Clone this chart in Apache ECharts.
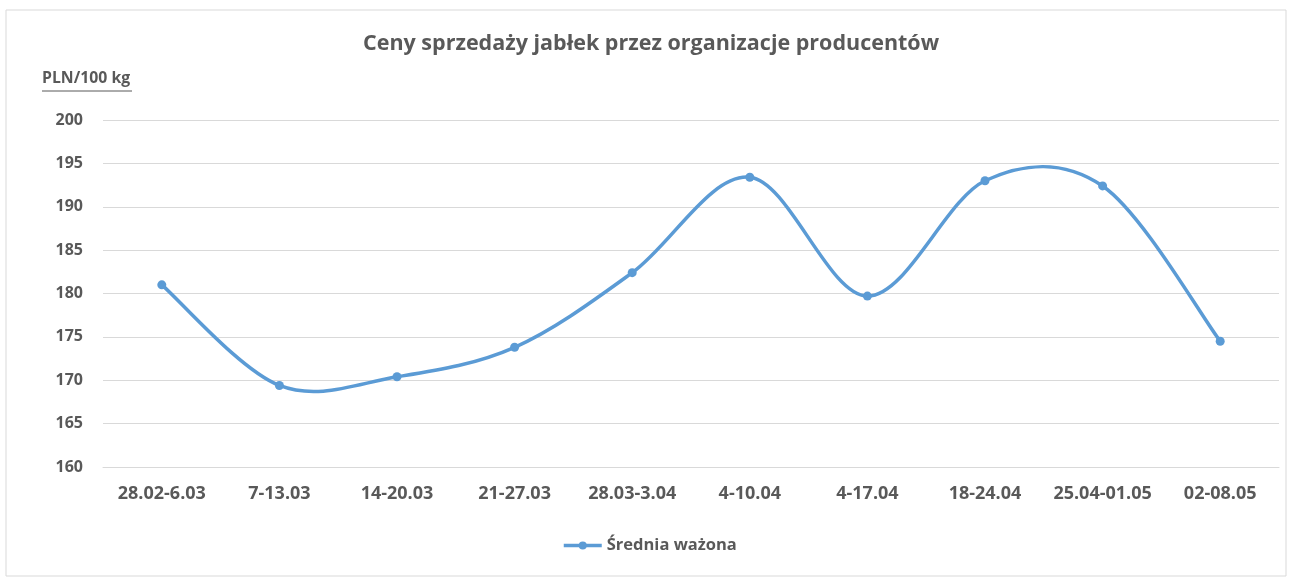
<!DOCTYPE html>
<html>
<head>
<meta charset="utf-8">
<script src="https://cdn.jsdelivr.net/npm/echarts@6/dist/echarts.min.js"></script>
<style>
  html, body { margin: 0; padding: 0; background: #fff; }
  #chart { width: 1290px; height: 580px; }
</style>
</head>
<body>
<div id="chart"></div>
<script>
// dane
var weeks = ['28.02-6.03', '7-13.03', '14-20.03', '21-27.03', '28.03-3.04',
    '4-10.04', '4-17.04', '18-24.04', '25.04-01.05', '02-08.05'];
var sredniaWazona = [181.0, 169.4, 170.4, 173.8, 182.4, 193.4, 179.7, 193.0, 192.4, 174.5];
var yMin = 160;
var yMax = 200;
var yStep = 5;

var textColor = '#595959';
var lineColor = '#5B9BD5';
var fontFam = '"Open Sans", "Liberation Sans", sans-serif';

var chart = echarts.init(document.getElementById('chart'));

// krzywa w stylu Excela (Catmull-Rom), punkty liczone przez oś wykresu
function renderCurve(params, api) {
    var i = params.dataIndex;
    var n = sredniaWazona.length;
    if (i >= n - 1) return;
    var pt = function (k) {
        k = Math.max(0, Math.min(n - 1, k));
        return api.coord([k, sredniaWazona[k]]);
    };
    var p0 = pt(i - 1), p1 = pt(i), p2 = pt(i + 1), p3 = pt(i + 2);
    return {
        type: 'bezierCurve',
        shape: {
            x1: p1[0], y1: p1[1],
            x2: p2[0], y2: p2[1],
            cpx1: p1[0] + (p2[0] - p0[0]) / 6,
            cpy1: p1[1] + (p2[1] - p0[1]) / 6,
            cpx2: p2[0] - (p3[0] - p1[0]) / 6,
            cpy2: p2[1] - (p3[1] - p1[1]) / 6
        },
        style: { fill: null, stroke: lineColor, lineWidth: 3.5, lineCap: 'round' }
    };
}

var option = {
    backgroundColor: '#fff',
    title: {
        text: 'Ceny sprzedaży jabłek przez organizacje producentów',
        left: 358,
        top: 28,
        textStyle: {
            color: textColor,
            fontSize: 21.5,
            fontWeight: 'bold',
            fontFamily: fontFam
        }
    },
    graphic: [
        {
            // ramka wykresu
            type: 'rect',
            shape: { x: 6, y: 10, width: 1280, height: 566 },
            style: { fill: null, stroke: '#D9D9D9', lineWidth: 1 },
            silent: true
        },
        {
            type: 'text',
            left: 42,
            top: 70,
            style: {
                text: 'PLN/100 kg',
                fill: textColor,
                font: 'bold 15.8px ' + fontFam
            }
        },
        {
            type: 'line',
            shape: { x1: 42, y1: 91, x2: 132, y2: 91 },
            style: { stroke: textColor, lineWidth: 1 }
        }
    ],
    legend: {
        bottom: 21,
        left: 557,
        itemWidth: 38,
        itemHeight: 10,
        itemGap: 6,
        lineStyle: { color: lineColor, width: 3.5, opacity: 1 },
        textStyle: {
            color: textColor,
            fontSize: 16.5,
            fontWeight: 'bold',
            fontFamily: fontFam
        },
        data: ['Średnia ważona']
    },
    grid: {
        left: 103,
        right: 11,
        top: 120,
        bottom: 113,
        containLabel: false,
        outerBoundsMode: 'none'
    },
    xAxis: {
        type: 'category',
        data: weeks,
        boundaryGap: true,
        axisLine: { show: true, lineStyle: { color: '#D9D9D9' } },
        axisTick: { show: false },
        axisLabel: {
            color: textColor,
            fontSize: 18,
            fontWeight: 'bold',
            fontFamily: fontFam,
            margin: 18,
            interval: 0
        }
    },
    yAxis: {
        type: 'value',
        min: yMin,
        max: yMax,
        interval: yStep,
        axisLine: { show: false },
        axisTick: { show: false },
        splitLine: { lineStyle: { color: '#D9D9D9', width: 1 } },
        axisLabel: {
            color: textColor,
            fontSize: 16,
            fontWeight: 'bold',
            fontFamily: fontFam,
            margin: 20
        }
    },
    series: [
        {
            name: 'krzywa',
            type: 'custom',
            renderItem: renderCurve,
            data: sredniaWazona.map(function (v, i) { return [i, v]; }),
            z: 2,
            silent: true
        },
        {
            name: 'Średnia ważona',
            type: 'line',
            data: sredniaWazona,
            symbol: 'circle',
            symbolSize: 9,
            itemStyle: { color: lineColor },
            lineStyle: { color: lineColor, width: 3.5, opacity: 0 },
            z: 3
        }
    ]
};

chart.setOption(option);
</script>
</body>
</html>
